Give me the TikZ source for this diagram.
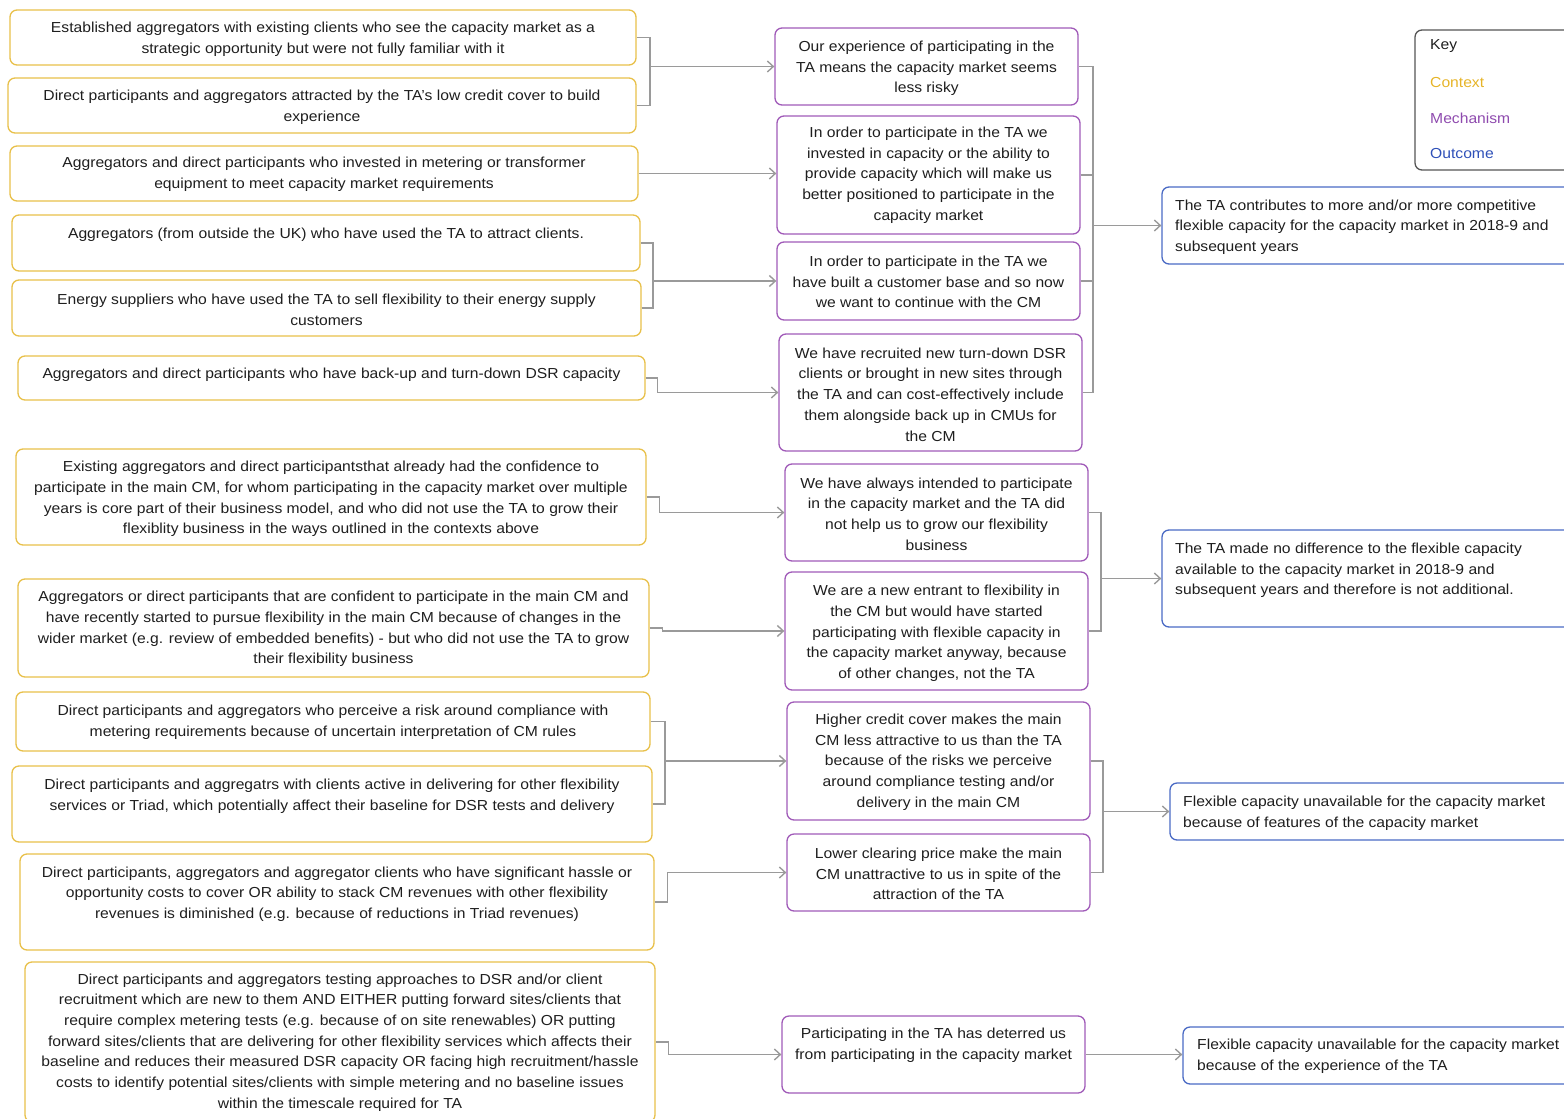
\documentclass[tikz,border=0pt]{standalone}
\usepackage{fontspec}
\setmainfont{Liberation Sans}[FakeStretch=1.08]
\usetikzlibrary{fit,arrows.meta}
\definecolor{ctxcol}{HTML}{E8C04A}
\definecolor{mechcol}{HTML}{A05AB8}
\definecolor{outcol}{HTML}{4A6AC4}
\definecolor{conncol}{HTML}{9A9A9A}
\definecolor{keycol}{HTML}{555555}
\definecolor{txtcol}{HTML}{1E1E1E}
\definecolor{ctxtxt}{HTML}{E6B428}
\definecolor{mechtxt}{HTML}{8E4AAE}
\definecolor{outtxt}{HTML}{2E50B8}
% box drawn from two corners (pixel grid, y downwards)
\newcommand\pbox[6]{\node[#1, fit={(#3,#4) (#5,#6)}] (#2) {};}
\begin{document}
\begin{tikzpicture}[x=1pt,y=-1pt,
  boxbase/.style={draw, rounded corners=7pt, line width=1.3pt, inner sep=0pt},
  ctx/.style={boxbase, draw=ctxcol},
  mech/.style={boxbase, draw=mechcol},
  outc/.style={boxbase, draw=outcol},
  keybox/.style={boxbase, draw=keycol},
  txt/.style={inner sep=0pt, yshift=-1.5pt, text=txtcol, align=center, font=\fontsize{14.5}{20.7}\selectfont},
  ltxt/.style={txt, align=left, anchor=west},
  conn/.style={draw=conncol, line width=1.4pt},
  arr/.style={conn, -{Straight Barb[length=6pt,width=11pt]}}]
\useasboundingbox (0,0) rectangle (1564,1119);
\clip (0,0) rectangle (1564,1119);

% ---------- contexts ----------
\pbox{ctx}{C1}{10}{10}{636}{65}
\node[txt] (C1t) at (323,37.5) {Established aggregators with existing clients who see the capacity market as a\\strategic opportunity but were not fully familiar with it};
\pbox{ctx}{C2}{8}{78}{636}{133}
\node[txt] (C2t) at (322,105.5) {Direct participants and aggregators attracted by the TA’s low credit cover to build\\experience};
\pbox{ctx}{C3}{10}{146}{638}{201}
\node[txt] (C3t) at (324,173) {Aggregators and direct participants who invested in metering or transformer\\equipment to meet capacity market requirements};
\pbox{ctx}{C4}{12}{215}{640}{271}
\node[txt] (C4t) at (326,233) {Aggregators (from outside the UK) who have used the TA to attract clients.};
\pbox{ctx}{C5}{12}{280}{641}{336}
\node[txt] (C5t) at (326.5,308.5) {Energy suppliers who have used the TA to sell flexibility to their energy supply\\customers};
\pbox{ctx}{C6}{18}{356}{645}{400}
\node[txt] (C6t) at (331.5,373) {Aggregators and direct participants who have back-up and turn-down DSR capacity};
\pbox{ctx}{C7}{16}{449}{646}{545}
\node[txt] (C7t) at (331,497.5) {Existing aggregators and direct participantsthat already had the confidence to\\participate in the main CM, for whom participating in the capacity market over multiple\\years is core part of their business model, and who did not use the TA to grow their\\flexiblity business in the ways outlined in the contexts above};
\pbox{ctx}{C8}{18}{579}{649}{677}
\node[txt] (C8t) at (333.5,627.5) {Aggregators or direct participants that are confident to participate in the main CM  and\\have recently started to pursue flexibility in the main CM because of changes in the\\wider market (e.g. review of embedded benefits) - but who did not use the TA to grow\\their flexibility business};
\pbox{ctx}{C9}{16}{692}{650}{751}
\node[txt] (C9t) at (333,720.5) {Direct participants and aggregators who perceive a risk around compliance with\\metering requirements because of uncertain interpretation of CM rules};
\pbox{ctx}{C10}{12}{766}{652}{842}
\node[txt] (C10t) at (332,794.5) {Direct participants and aggregatrs with clients active in delivering for other flexibility\\services or Triad, which potentially affect their baseline for DSR tests and delivery};
\pbox{ctx}{C11}{20}{854}{654}{950}
\node[txt] (C11t) at (337,892.5) {Direct participants, aggregators and aggregator clients who have significant hassle or\\opportunity costs to cover OR ability to stack CM revenues with other flexibility\\revenues is diminished (e.g. because of reductions in Triad revenues)};
\pbox{ctx}{C12}{25}{962}{655}{1122}
\node[txt] (C12t) at (340,1041) {Direct participants and aggregators testing approaches to DSR and/or client\\recruitment which are new to them AND EITHER putting forward sites/clients that\\require complex metering tests (e.g. because of on site renewables) OR putting\\forward sites/clients that are delivering for other flexibility services which affects their\\baseline and reduces their measured DSR capacity OR facing high recruitment/hassle\\costs to identify potential sites/clients with simple metering and no baseline issues\\within the timescale required for TA};

% ---------- mechanisms ----------
\pbox{mech}{M1}{775}{28}{1078}{105}
\node[txt] (M1t) at (926.5,67) {Our experience of participating in the\\TA means the capacity market seems\\less risky};
\pbox{mech}{M2}{777}{116}{1080}{234}
\node[txt] (M2t) at (928.5,173.6) {In order to participate in the TA we\\invested in capacity or the ability to\\provide capacity  which will make us\\better positioned to participate in the\\capacity market};
\pbox{mech}{M3}{777}{242}{1080}{320}
\node[txt] (M3t) at (928.5,280.5) {In order to participate in the TA we\\have built a customer base and so now\\we want to continue with the CM};
\pbox{mech}{M4}{779}{334}{1082}{451}
\node[txt] (M4t) at (930.5,393) {We have recruited new turn-down DSR\\clients or brought in new sites through\\the TA and can cost-effectively include\\them alongside back up in CMUs for\\the CM};
\pbox{mech}{M5}{785}{464}{1088}{561}
\node[txt] (M5t) at (936.5,512.5) {We have always intended to participate\\in the capacity market and the TA did\\not help us to grow our flexibility\\business};
\pbox{mech}{M6}{785}{572}{1088}{690}
\node[txt] (M6t) at (936.5,632) {We are a new entrant to flexibility in\\the CM but would have started\\participating with flexible capacity in\\the capacity market anyway, because\\of  other changes, not the TA};
\pbox{mech}{M7}{787}{702}{1090}{820}
\node[txt] (M7t) at (938.5,760.5) {Higher credit cover makes the main\\CM less attractive to us than the TA\\because of the risks we perceive\\around compliance testing and/or\\delivery in the main CM};
\pbox{mech}{M8}{787}{834}{1090}{911}
\node[txt] (M8t) at (938.5,872.5) {Lower clearing price make the main\\CM unattractive to us in spite of the\\attraction of the TA};
\pbox{mech}{M9}{782}{1016}{1085}{1093}
\node[txt] (M9t) at (933.5,1043.5) {Participating in the TA has deterred us\\from participating in the capacity market};

% ---------- outcomes ----------
\pbox{outc}{O1}{1162}{187}{1590}{264}
\node[ltxt] (O1t) at (1175,225.5) {The TA contributes to more and/or more competitive\\flexible capacity for the capacity market in 2018-9 and\\subsequent years};
\pbox{outc}{O2}{1162}{530}{1590}{627}
\node[ltxt] (O2t) at (1175,569) {The TA made no difference to the flexible capacity\\available to the capacity market in 2018-9 and\\subsequent years and therefore is not additional.};
\pbox{outc}{O3}{1170}{783}{1590}{840}
\node[ltxt] (O3t) at (1183,811.5) {Flexible capacity unavailable for the capacity market\\because of features of the capacity market};
\pbox{outc}{O4}{1183}{1027}{1590}{1084}
\node[ltxt] (O4t) at (1197,1055) {Flexible capacity unavailable for the capacity market\\because of the experience of the TA};

% ---------- key ----------
\pbox{keybox}{K}{1415}{30}{1590}{170}
\node[ltxt] (Kt) at (1430,45) {Key};
\node[ltxt, text=ctxtxt] (Kc) at (1430,81) {Context};
\node[ltxt, text=mechtxt] (Km) at (1430,117) {Mechanism};
\node[ltxt, text=outtxt] (Ko) at (1430,152) {Outcome};

% ---------- context -> mechanism ----------
\coordinate (j1) at (M1.west -| 650,0);
\draw[conn] (C1.east) -| (j1);
\draw[conn] (C2.east) -| (j1);
\draw[arr] (j1) -- (M1.west);

\draw[arr] (C3.east) -- (C3.east -| M2.west);

\coordinate (j2) at (M3.west -| 653,0);
\draw[conn] (C4.east) -| (j2);
\draw[conn] (C5.east) -| (j2);
\draw[arr] (j2) -- (M3.west);

\draw[arr] (C6.east) -- ++(12,0) |- (M4.west);
\draw[arr] (C7.east) -- ++(13,0) |- (M5.west);
\draw[arr] (C8.east) -- ++(13,0) |- (M6.west);

\coordinate (j3) at (M7.west -| 665,0);
\draw[conn] (C9.east) -| (j3);
\draw[conn] (C10.east) -| (j3);
\draw[arr] (j3) -- (M7.west);

\draw[arr] (C11.east) -- ++(13,0) |- (M8.west);
\draw[arr] (C12.east) -- ++(13,0) |- (M9.west);

% ---------- mechanism -> outcome ----------
\coordinate (k1) at (O1.west -| 1093,0);
\foreach \m in {M1,M2,M3,M4} \draw[conn] (\m.east) -| (k1);
\draw[arr] (k1) -- (O1.west);

\coordinate (k2) at (O2.west -| 1101,0);
\foreach \m in {M5,M6} \draw[conn] (\m.east) -| (k2);
\draw[arr] (k2) -- (O2.west);

\coordinate (k3) at (O3.west -| 1103,0);
\foreach \m in {M7,M8} \draw[conn] (\m.east) -| (k3);
\draw[arr] (k3) -- (O3.west);

\draw[arr] (M9.east) -- (M9.east -| O4.west);
\end{tikzpicture}
\end{document}
